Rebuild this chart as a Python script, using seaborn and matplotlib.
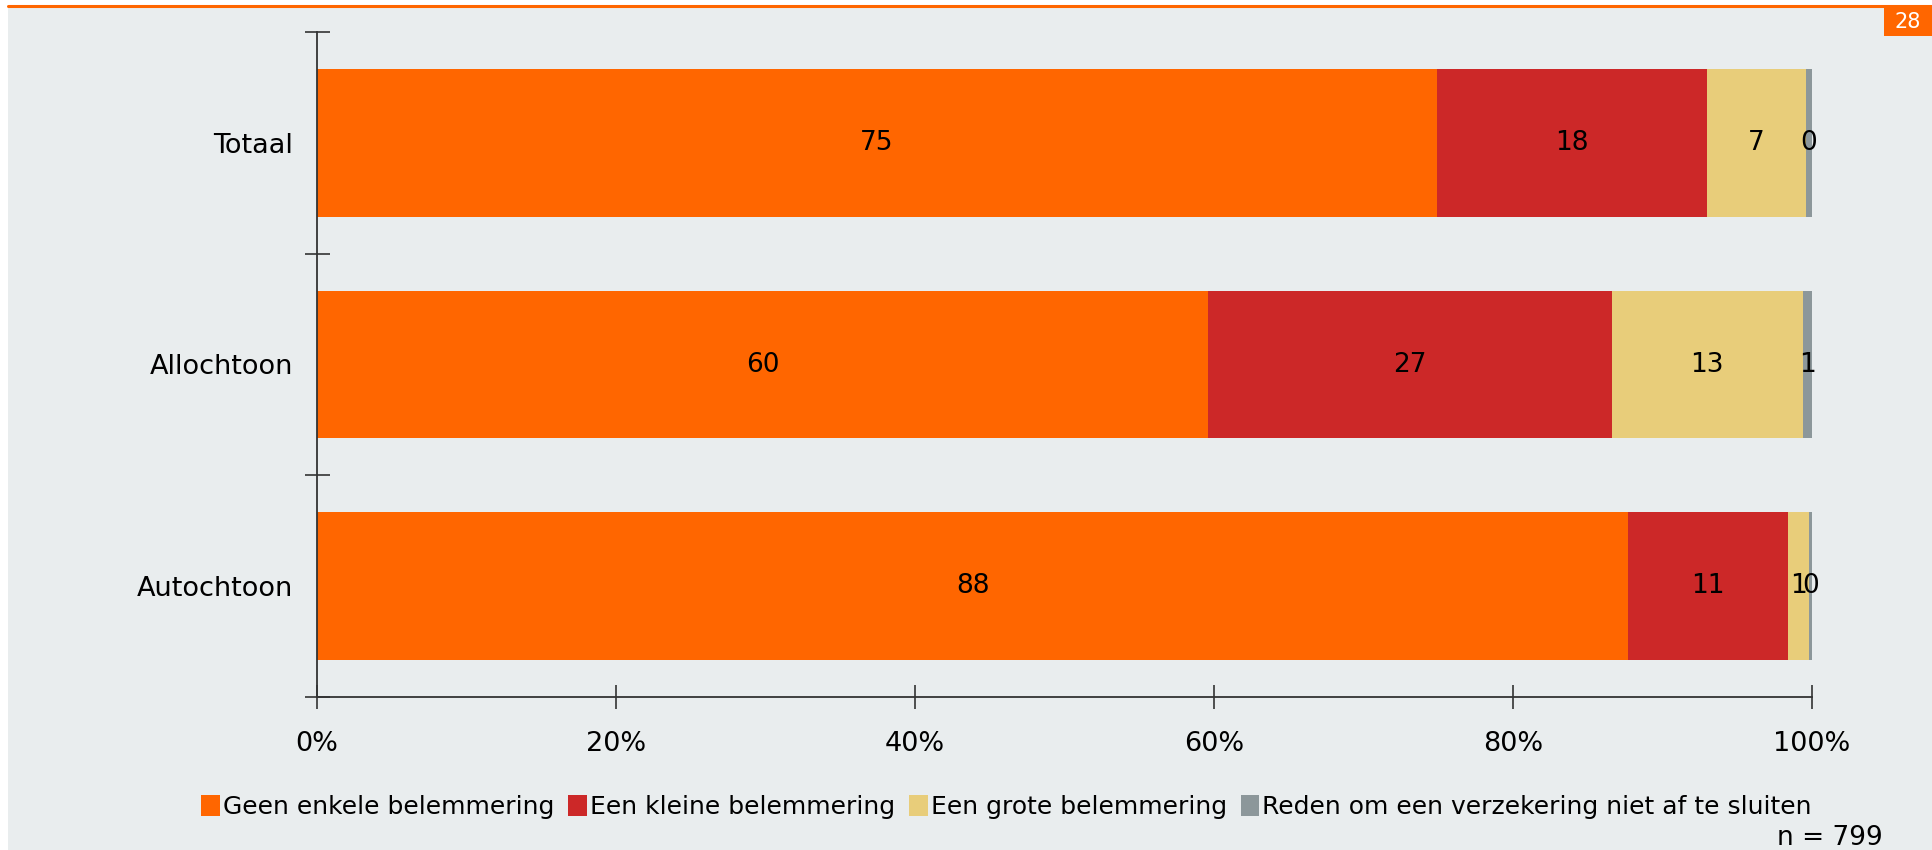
import pandas as pd
import seaborn as sns
from matplotlib import pyplot as plt
from matplotlib.patches import Patch, Rectangle
from matplotlib.lines import Line2D

# data (percent)
groups = ["Totaal", "Allochtoon", "Autochtoon"]
categories = ["Geen enkele belemmering", "Een kleine belemmering",
              "Een grote belemmering", "Reden om een verzekering niet af te sluiten"]
geen = [74.9, 59.6, 87.7]
klein = [18.1, 27.0, 10.7]
groot = [6.6, 12.8, 1.4]
reden = [0.4, 0.6, 0.2]
colors = ["#FF6600", "#CC2828", "#E8CD7A", "#8C979A"]
x_ticks = [0, 20, 40, 60, 80, 100]
n_label = "n = 799"

bg = "#E9EDEE"

df = pd.DataFrame({"group": groups, categories[0]: geen, categories[1]: klein,
                   categories[2]: groot, categories[3]: reden})
cum = df[categories].cumsum(axis=1)
cum["group"] = df["group"]

sns.set_style("white")
plt.rcParams["font.family"] = ["DejaVu Sans"]
plt.rcParams["text.color"] = "black"
plt.rcParams["xtick.color"] = "#333333"
plt.rcParams["ytick.color"] = "#333333"

fig = plt.figure(figsize=(19.32, 8.5), dpi=100, facecolor="white")
fig.patches.append(Rectangle((8 / 1932, 0), 1, 1 - 7 / 850, transform=fig.transFigure,
                             facecolor=bg, edgecolor="none", zorder=-2))
fig.lines.append(Line2D([8 / 1932, 1], [1 - 5.5 / 850, 1 - 5.5 / 850], transform=fig.transFigure,
                        color="#FF6600", lw=2.2))
fig.patches.append(Rectangle((1884 / 1932, 1 - 36 / 850), 48 / 1932, 29 / 850,
                             transform=fig.transFigure, facecolor="#FF6600", edgecolor="none"))
fig.text(1908 / 1932, 1 - 22 / 850, "28", color="white", fontsize=15, ha="center", va="center")

ax = fig.add_axes([317 / 1932, 1 - 697 / 850, (1812 - 317) / 1932, (697 - 32) / 850])
ax.set_facecolor(bg)

# stacked bars: draw cumulative totals from the last category down to the first
for cat, col in reversed(list(zip(categories, colors))):
    sns.barplot(data=cum, x=cat, y="group", color=col, width=0.667, saturation=1,
                orient="h", ax=ax, linewidth=0)

# value labels in the middle of each segment
for i, g in enumerate(groups):
    row = df.loc[df["group"] == g, categories].iloc[0]
    left = 0
    for cat in categories:
        v = row[cat]
        ax.text(left + v / 2, i, "{:.0f}".format(v), ha="center", va="center",
                fontsize=19, color="black")
        left += v

ax.set_xlim(0, 100)
ax.set_ylim(2.5, -0.5)
ax.set_xticks(x_ticks)
ax.set_xticklabels(["{}%".format(t) for t in x_ticks], fontsize=19.5, color="black")
ax.set_yticks(range(len(groups)))
ax.set_yticklabels(groups, fontsize=19.5, color="black")
ax.set_yticks([-0.5, 0.5, 1.5, 2.5], minor=True)
ax.tick_params(axis="y", which="major", left=True, length=0, pad=17)
ax.tick_params(axis="y", which="minor", left=True, direction="inout", length=18, width=1.2)
ax.tick_params(axis="x", which="major", bottom=True, direction="inout", length=17, width=1.2, pad=16)
ax.set_xlabel("")
ax.set_ylabel("")
for s in ["top", "right"]:
    ax.spines[s].set_visible(False)
for s in ["left", "bottom"]:
    ax.spines[s].set_color("#333333")
    ax.spines[s].set_linewidth(1.3)

handles = [Patch(facecolor=c, edgecolor="none") for c in colors]
fig.legend(handles, categories, loc="center", bbox_to_anchor=(0.521, 1 - 807 / 850), ncol=4,
           frameon=False, fontsize=18, handlelength=0.75, handleheight=0.9,
           handletextpad=0.12, columnspacing=0.55)
fig.text(1883 / 1932, 1 - 838 / 850, n_label, fontsize=19, ha="right", va="center")

plt.savefig("out.png", dpi=100, facecolor=fig.get_facecolor())
